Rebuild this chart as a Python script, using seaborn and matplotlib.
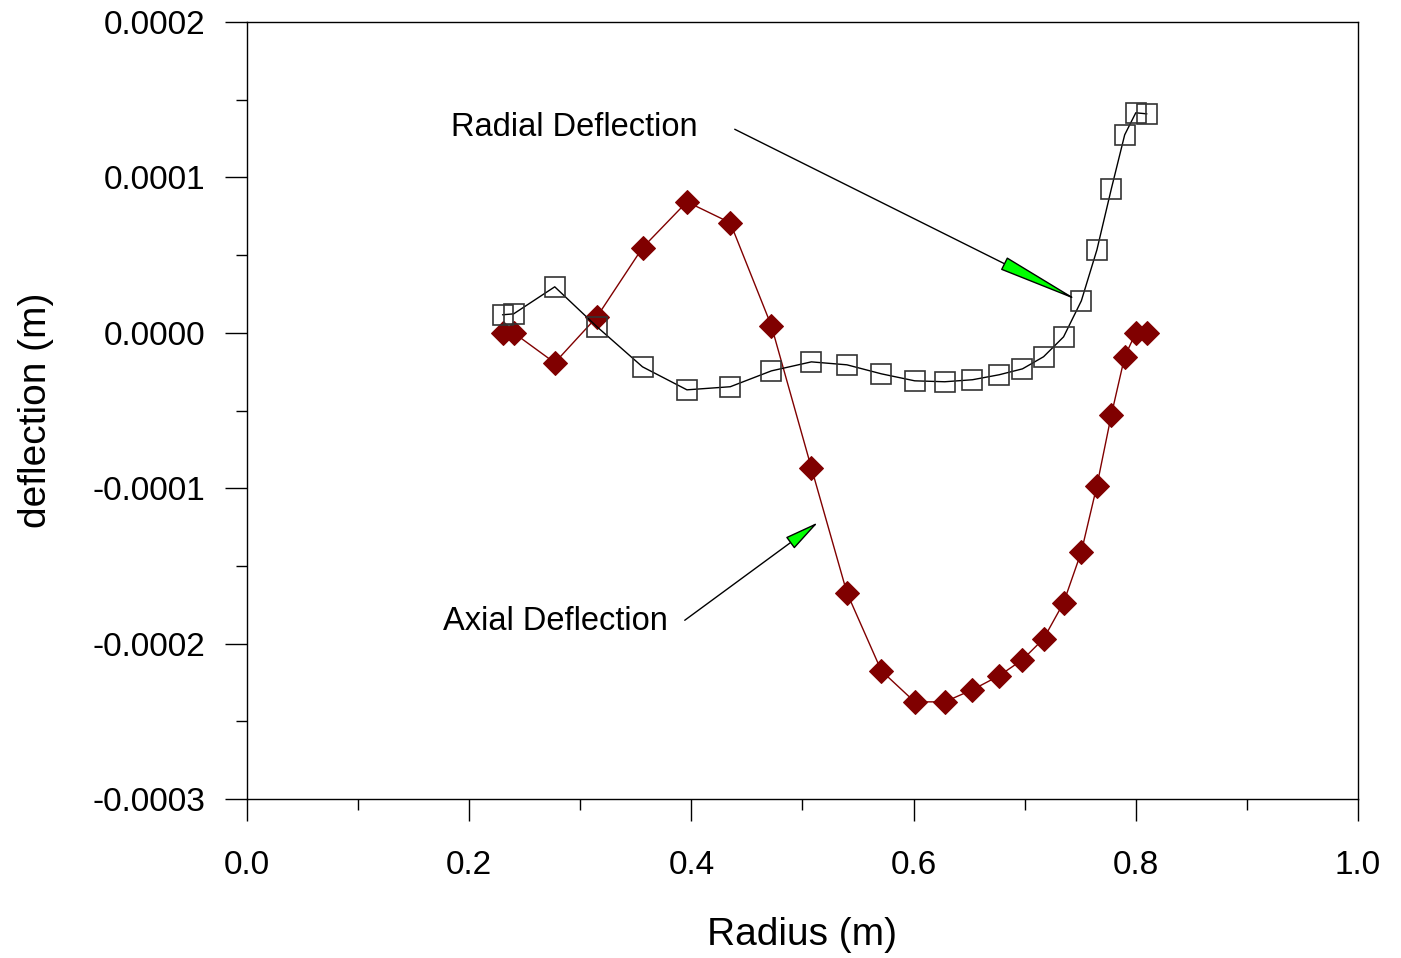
import matplotlib
matplotlib.use("Agg")
import matplotlib.pyplot as plt
import matplotlib.ticker as mticker
import seaborn as sns
import pandas as pd

# radius (m) of each sample point
radius = [0.230, 0.240, 0.277, 0.315, 0.356, 0.396, 0.435, 0.472, 0.508, 0.540,
          0.571, 0.601, 0.628, 0.653, 0.677, 0.698, 0.717, 0.735, 0.751, 0.765,
          0.778, 0.790, 0.800, 0.810]

# deflections (m)
axial = [0.0, 0.0, -0.193e-4, 0.103e-4, 0.547e-4, 0.843e-4, 0.708e-4, 0.045e-4,
         -0.869e-4, -1.673e-4, -2.175e-4, -2.375e-4, -2.375e-4, -2.297e-4,
         -2.207e-4, -2.104e-4, -1.969e-4, -1.737e-4, -1.409e-4, -0.984e-4,
         -0.528e-4, -0.154e-4, 0.0, 0.0]
radial = [0.116e-4, 0.122e-4, 0.296e-4, 0.039e-4, -0.219e-4, -0.367e-4, -0.347e-4,
          -0.245e-4, -0.187e-4, -0.206e-4, -0.264e-4, -0.309e-4, -0.315e-4,
          -0.302e-4, -0.270e-4, -0.232e-4, -0.154e-4, -0.026e-4, 0.206e-4,
          0.534e-4, 0.927e-4, 1.274e-4, 1.416e-4, 1.409e-4]

df = pd.DataFrame({"radius": radius, "axial": axial, "radial": radial})

sns.set_style("ticks")
plt.rcParams["font.family"] = ["Liberation Sans", "DejaVu Sans"]
plt.rcParams["text.color"] = "black"
plt.rcParams["axes.labelcolor"] = "black"
plt.rcParams["xtick.labelcolor"] = "black"
plt.rcParams["ytick.labelcolor"] = "black"

fig = plt.figure(figsize=(14.01, 9.58), dpi=100)
ax = fig.add_axes([0.1763, 0.166, 0.793, 0.811])

# axial deflection - filled maroon diamonds
sns.lineplot(data=df, x="radius", y="axial", ax=ax, estimator=None, sort=False,
             color="#800000", linewidth=1.0, marker="D", markersize=12,
             markerfacecolor="#800000", markeredgecolor="#800000")

# radial deflection - open squares
sns.lineplot(data=df, x="radius", y="radial", ax=ax, estimator=None, sort=False,
             color="black", linewidth=1.0, marker="s", markersize=15,
             markerfacecolor="none", markeredgecolor="#333333", markeredgewidth=1.2)

ax.set_xlim(0, 1.0)
ax.set_ylim(-0.0003, 0.0002)
ax.xaxis.set_major_locator(mticker.MultipleLocator(0.2))
ax.xaxis.set_minor_locator(mticker.MultipleLocator(0.1))
ax.yaxis.set_major_locator(mticker.MultipleLocator(0.0001))
ax.yaxis.set_minor_locator(mticker.MultipleLocator(0.00005))
ax.xaxis.set_major_formatter(mticker.FuncFormatter(lambda v, p: f"{round(v, 6) + 0:.1f}"))
ax.yaxis.set_major_formatter(mticker.FuncFormatter(lambda v, p: f"{round(v, 8) + 0:.4f}"))

ax.tick_params(which="major", direction="out", length=16, width=1, labelsize=24,
               color="black")
ax.tick_params(which="minor", direction="out", length=8, width=1, color="black")
ax.tick_params(axis="x", which="major", pad=21)
ax.tick_params(axis="y", which="major", pad=14)

for s in ax.spines.values():
    s.set_linewidth(1.0)
    s.set_color("black")

ax.set_xlabel("Radius (m)", fontsize=28, labelpad=26)
ax.set_ylabel("deflection (m)", fontsize=28, labelpad=28)

# annotations with green arrow heads
ax.annotate("", xy=(0.749, 0.0000205), xytext=(0.439, 0.000131),
            arrowprops=dict(arrowstyle="-|>,head_length=5.4,head_width=0.45",
                            mutation_scale=10, fc="#00ff00", ec="black", lw=1.0,
                            shrinkA=0, shrinkB=0))
ax.text(0.406, 0.000132, "Radial Deflection", fontsize=23.5, ha="right", va="center")

ax.annotate("", xy=(0.514, -0.000122), xytext=(0.394, -0.000185),
            arrowprops=dict(arrowstyle="-|>,head_length=2.2,head_width=0.45",
                            mutation_scale=10, fc="#00ff00", ec="black", lw=1.0,
                            shrinkA=0, shrinkB=0))
ax.text(0.379, -0.0001855, "Axial Deflection", fontsize=23.5, ha="right", va="center")

fig.savefig("out.png", dpi=100)
